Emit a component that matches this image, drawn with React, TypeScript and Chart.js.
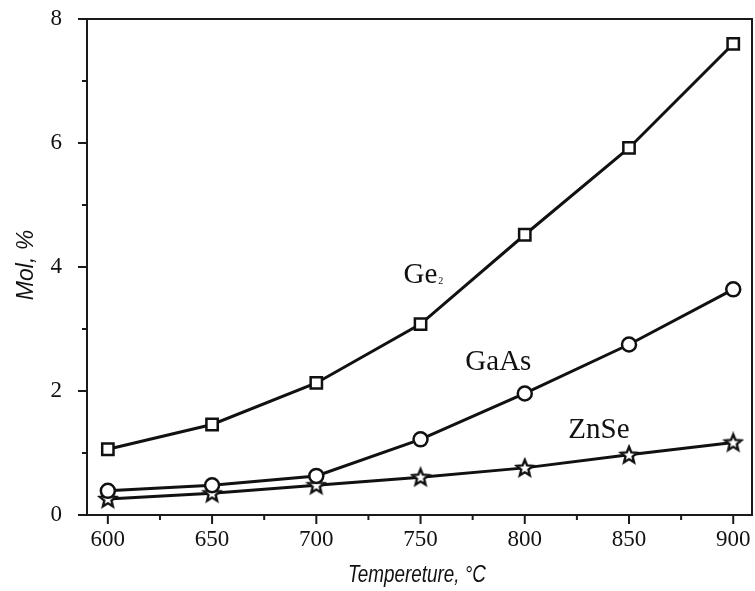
import React, { useEffect, useRef } from "react";
import { Chart, registerables } from "chart.js";

Chart.register(...registerables);

const temperatures = [600, 650, 700, 750, 800, 850, 900];
const ge2Values = [1.06, 1.46, 2.13, 3.08, 4.52, 5.92, 7.6];
const gaasValues = [0.39, 0.48, 0.63, 1.22, 1.96, 2.75, 3.64];
const znseValues = [0.26, 0.35, 0.48, 0.61, 0.76, 0.97, 1.17];

const xTickValues = [600, 650, 700, 750, 800, 850, 900];
const xTickLabels = ["600", "650", "700", "750", "800", "850", "900"];
const xMinorTicks = [625, 675, 725, 775, 825, 875];
const yTickValues = [0, 2, 4, 6, 8];
const yMinorTicks = [1, 3, 5, 7];

const seriesLabels = [
  { text: "Ge", sub: "2", x: 741.8, y: 3.74 },
  { text: "GaAs", sub: "", x: 771.5, y: 2.34 },
  { text: "ZnSe", sub: "", x: 820.9, y: 1.24 },
];

const SERIF = '"Liberation Serif", "Times New Roman", serif';
const SANS = '"Liberation Sans", Arial, sans-serif';

function makeStar(): HTMLCanvasElement {
  const c = document.createElement("canvas");
  c.width = 22;
  c.height = 22;
  const g = c.getContext("2d")!;
  const cx = 11, cy = 11.5, R = 8.5, r = 3.8;
  g.beginPath();
  for (let i = 0; i < 10; i++) {
    const rad = i % 2 === 0 ? R : r;
    const a = -Math.PI / 2 + (i * Math.PI) / 5;
    const px = cx + rad * Math.cos(a);
    const py = cy + rad * Math.sin(a);
    if (i === 0) g.moveTo(px, py);
    else g.lineTo(px, py);
  }
  g.closePath();
  g.fillStyle = "#fff";
  g.fill();
  g.lineWidth = 2.4;
  g.lineJoin = "miter";
  g.strokeStyle = "#111";
  g.stroke();
  return c;
}

const framePlugin = {
  id: "frame",
  afterDraw(chart: any) {
    const { ctx, chartArea, scales } = chart;
    const { left, top, right, bottom } = chartArea;
    const x = scales.x, y = scales.y;
    ctx.save();
    ctx.strokeStyle = "#1a1a1a";
    ctx.lineWidth = 2;
    ctx.strokeRect(left, top, right - left, bottom - top);
    ctx.beginPath();
    xTickValues.forEach((v) => {
      const p = x.getPixelForValue(v);
      ctx.moveTo(p, bottom);
      ctx.lineTo(p, bottom + 9);
    });
    xMinorTicks.forEach((v) => {
      const p = x.getPixelForValue(v);
      ctx.moveTo(p, bottom);
      ctx.lineTo(p, bottom + 5);
    });
    yTickValues.forEach((v) => {
      const p = y.getPixelForValue(v);
      ctx.moveTo(left, p);
      ctx.lineTo(left - 9, p);
    });
    yMinorTicks.forEach((v) => {
      const p = y.getPixelForValue(v);
      ctx.moveTo(left, p);
      ctx.lineTo(left - 5, p);
    });
    ctx.stroke();

    ctx.fillStyle = "#111";
    // x tick labels
    ctx.font = "23px " + SERIF;
    ctx.textAlign = "center";
    ctx.textBaseline = "middle";
    xTickValues.forEach((v, i) => {
      ctx.fillText(xTickLabels[i], x.getPixelForValue(v), bottom + 25);
    });

    // series labels
    ctx.textBaseline = "alphabetic";
    ctx.textAlign = "left";
    seriesLabels.forEach((l) => {
      const px = x.getPixelForValue(l.x);
      const py = y.getPixelForValue(l.y);
      ctx.font = "29px " + SERIF;
      ctx.fillText(l.text, px, py);
      if (l.sub) {
        const w = ctx.measureText(l.text).width;
        ctx.font = "10px " + SERIF;
        ctx.fillText(l.sub, px + w + 1, py + 1);
      }
    });

    // axis titles
    ctx.textAlign = "center";
    ctx.textBaseline = "middle";
    ctx.save();
    ctx.translate(417, 576);
    ctx.scale(0.82, 1);
    ctx.font = "italic 23px " + SANS;
    ctx.fillText("Tempereture, °C", 0, 0);
    ctx.restore();
    ctx.save();
    ctx.translate(27, 265);
    ctx.rotate(-Math.PI / 2);
    ctx.font = "italic 23px " + SANS;
    ctx.fillText("Mol, %", 0, 0);
    ctx.restore();
    ctx.restore();
  },
};

export default function App() {
  const ref = useRef<HTMLCanvasElement>(null);
  useEffect(() => {
    document.body.style.margin = "0";
    const star = makeStar();
    const common = {
      borderColor: "#111",
      borderWidth: 3,
      pointBorderColor: "#111",
      pointBackgroundColor: "#fff",
      pointBorderWidth: 2.5,
      fill: false,
      tension: 0,
    };
    const chart = new Chart(ref.current!, {
      type: "line",
      data: {
        datasets: [
          {
            ...common,
            label: "Ge2",
            data: temperatures.map((t, i) => ({ x: t, y: ge2Values[i] })),
            pointStyle: "rect",
            pointRadius: 8,
          },
          {
            ...common,
            label: "GaAs",
            data: temperatures.map((t, i) => ({ x: t, y: gaasValues[i] })),
            pointStyle: "circle",
            pointRadius: 7,
          },
          {
            ...common,
            label: "ZnSe",
            data: temperatures.map((t, i) => ({ x: t, y: znseValues[i] })),
            pointStyle: star as any,
            pointRadius: 8,
          },
        ],
      },
      options: {
        animation: false,
        responsive: false,
        devicePixelRatio: 1,
        layout: { autoPadding: false, padding: { top: 19, right: 3, left: 0, bottom: 0 } },
        plugins: { legend: { display: false }, tooltip: { enabled: false } },
        scales: {
          x: {
            type: "linear",
            min: 590,
            max: 909,
            grid: { display: false },
            border: { display: false },
            afterBuildTicks: (s: any) => {
              s.ticks = xTickValues.map((v) => ({ value: v }));
            },
            afterFit: (s: any) => {
              s.height = 76;
              s.paddingLeft = 0;
              s.paddingRight = 0;
            },
            ticks: { display: false },
          },
          y: {
            type: "linear",
            min: 0,
            max: 8,
            grid: { display: false },
            border: { display: false },
            afterBuildTicks: (s: any) => {
              s.ticks = yTickValues.map((v) => ({ value: v }));
            },
            afterFit: (s: any) => {
              s.width = 87;
              s.paddingTop = 0;
              s.paddingBottom = 0;
            },
            ticks: {
              padding: 17,
              color: "#111",
              autoSkip: false,
              font: { family: SERIF, size: 23 },
            },
          },
        },
      },
      plugins: [framePlugin],
    });
    return () => chart.destroy();
  }, []);
  return (
    <div style={{ width: 755, height: 591, background: "#fff" }}>
      <canvas ref={ref} width={755} height={591} />
    </div>
  );
}
